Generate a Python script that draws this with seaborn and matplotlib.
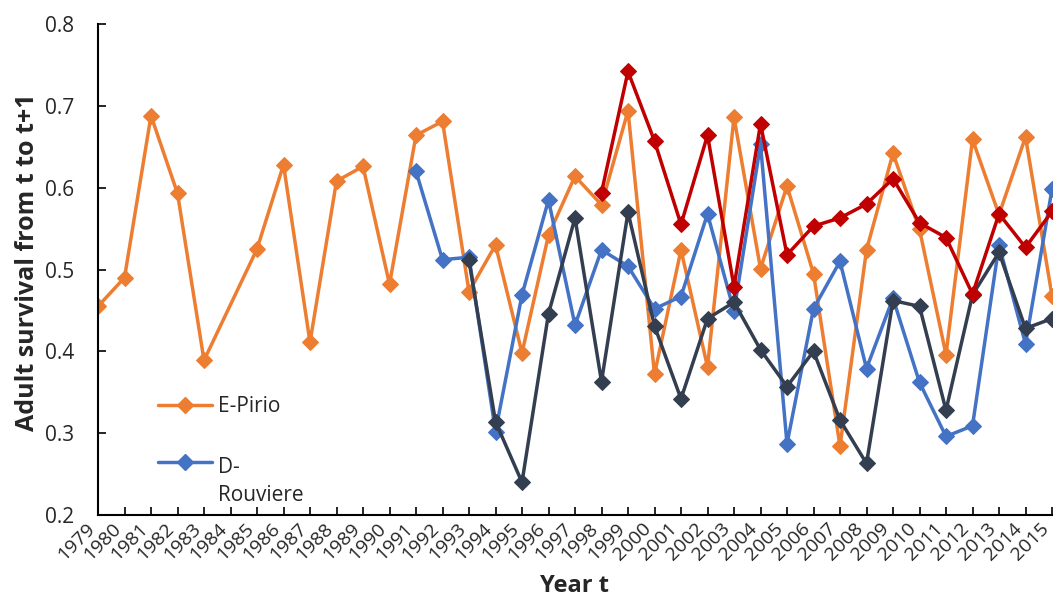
import numpy as np
import pandas as pd
import matplotlib
matplotlib.use("Agg")
import matplotlib.pyplot as plt
import seaborn as sns
from matplotlib.lines import Line2D

years = list(range(1979, 2016))

e_pirio = [0.455, 0.490, 0.688, 0.593, 0.389, np.nan, 0.525, 0.628, 0.411, 0.608,
           0.626, 0.482, 0.664, 0.681, 0.473, 0.530, 0.398, 0.542, 0.614, 0.579,
           0.694, 0.372, 0.524, 0.381, 0.686, 0.501, 0.602, 0.495, 0.284, 0.524,
           0.642, 0.549, 0.396, 0.659, 0.567, 0.662, 0.468]

d_rouviere_years = list(range(1991, 2016))
d_rouviere = [0.620, 0.512, 0.515, 0.302, 0.469, 0.585, 0.432, 0.524, 0.504, 0.452,
              0.467, 0.568, 0.449, 0.653, 0.287, 0.452, 0.510, 0.379, 0.465, 0.362,
              0.296, 0.309, 0.530, 0.409, 0.598]

dark_years = list(range(1993, 2016))
dark_series = [0.511, 0.314, 0.240, 0.446, 0.563, 0.363, 0.570, 0.431, 0.342, 0.440,
               0.460, 0.402, 0.357, 0.400, 0.316, 0.263, 0.462, 0.455, 0.328, 0.469,
               0.521, 0.428, 0.440]

red_years = list(range(1998, 2016))
red_series = [0.594, 0.742, 0.657, 0.555, 0.664, 0.479, 0.678, 0.518, 0.553, 0.563,
              0.580, 0.611, 0.557, 0.539, 0.470, 0.568, 0.527, 0.571]

series = [
    ("E-Pirio", years, e_pirio, "#ED7D31", True),
    ("D-\nRouviere", d_rouviere_years, d_rouviere, "#4472C4", True),
    ("Series 3", dark_years, dark_series, "#333F50", False),
    ("Series 4", red_years, red_series, "#C00000", False),
]

sns.set_style("white")
plt.rcParams['font.family'] = ['Open Sans', 'DejaVu Sans']

fig = plt.figure(figsize=(10.57, 5.96), dpi=100)
ax = fig.add_axes([98/1057, 1 - 515/596, (1052 - 98)/1057, (515 - 24)/596])

for name, xs, ys, col, in_leg in series:
    df = pd.DataFrame({"year": xs, "value": ys}).dropna()
    sns.lineplot(data=df, x="year", y="value", ax=ax, color=col, marker="D",
                 markersize=8, markeredgecolor=col, linewidth=2.5, legend=False)

leg_handles = [Line2D([0], [0], color=c, marker="D", markersize=8, linewidth=2.5)
               for n, _, _, c, il in series if il]
leg_labels = [n for n, _, _, _, il in series if il]
leg = ax.legend(leg_handles, leg_labels, loc="upper left", bbox_to_anchor=(0.0545, 0.259),
                frameon=False, fontsize=15, handlelength=2.6, labelspacing=1.9,
                handletextpad=0.25, borderaxespad=0)
for t in leg.get_texts():
    t.set_linespacing(1.43)
# align the second handle with the first line of its two-line label
h2 = leg.legend_handles[1]
h2.set_ydata(np.asarray(h2.get_ydata()) + 14)

ax.set_xlim(1979, 2015)
ax.set_ylim(0.2, 0.8)
ax.set_xticks(years)
ax.set_xticklabels([str(y) for y in years], rotation=45, ha="right", fontsize=14)
ax.set_yticks([0.2, 0.3, 0.4, 0.5, 0.6, 0.7, 0.8])
ax.set_yticklabels(["0.2", "0.3", "0.4", "0.5", "0.6", "0.7", "0.8"], fontsize=15)
ax.tick_params(axis="both", direction="in", length=6, width=1.2, color="black",
               left=True, bottom=True)
ax.tick_params(axis="y", pad=17)
ax.tick_params(axis="x", pad=3)

for s in ["top", "right"]:
    ax.spines[s].set_visible(False)
for s in ["left", "bottom"]:
    ax.spines[s].set_color("black")
    ax.spines[s].set_linewidth(1.5)

ax.set_xlabel("Year t", fontsize=17, fontweight="bold")
ax.set_ylabel("Adult survival from t to t+1", fontsize=18, fontweight="bold")
ax.xaxis.set_label_coords((575 - 98) / (1052 - 98), -(574 - 515) / (515 - 24))
ax.yaxis.set_label_coords(-(98 - 40) / (1052 - 98), (515 - 262) / (515 - 24))
ax.grid(False)

fig.savefig("out.png", dpi=100)
